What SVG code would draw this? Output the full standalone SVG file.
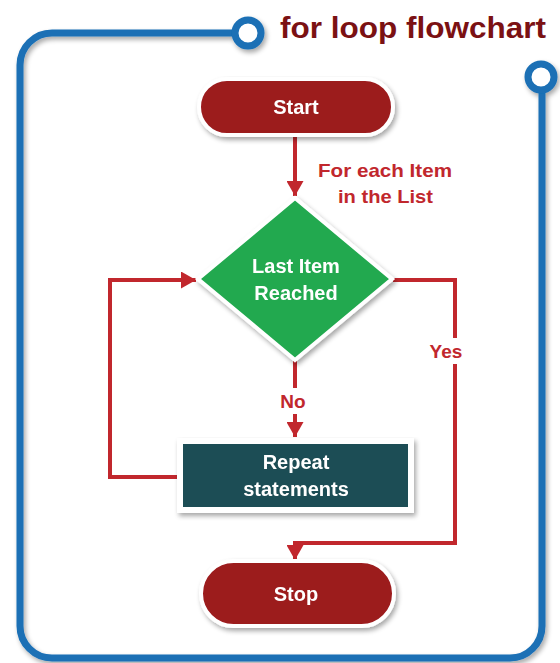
<svg xmlns="http://www.w3.org/2000/svg" width="560" height="663" viewBox="0 0 560 663">
  <defs>
    <filter id="shadow" x="-10%" y="-10%" width="130%" height="130%">
      <feGaussianBlur in="SourceAlpha" stdDeviation="2.5"/>
      <feOffset dx="2" dy="3" result="b"/>
      <feComponentTransfer><feFuncA type="linear" slope="0.35"/></feComponentTransfer>
      <feMerge><feMergeNode/><feMergeNode in="SourceGraphic"/></feMerge>
    </filter>
    <marker id="arrow" viewBox="0 0 15 17" refX="15" refY="8.5" markerWidth="15" markerHeight="17" markerUnits="userSpaceOnUse" orient="auto">
      <path d="M0,0 L15,8.5 L0,17 Z" fill="#c1272d"/>
    </marker>
    <style>
      .frame { fill: none; stroke: #1a6fb5; stroke-width: 7; }
      .ring { fill: #ffffff; stroke: #1a6fb5; stroke-width: 7; }
      .term { fill: #9c1a1e; stroke: #ffffff; stroke-width: 4; }
      .dec { fill: #22a94f; stroke: #ffffff; stroke-width: 4; }
      .proc { fill: #1f4e55; stroke: #ffffff; stroke-width: 6; }
      .node-text { font-family: "Liberation Sans", Arial, sans-serif; font-weight: bold; font-size: 20px; fill: #ffffff; text-anchor: middle; }
      .label { font-family: "Liberation Sans", Arial, sans-serif; font-weight: bold; font-size: 19px; fill: #c1272d; }
      .edge { fill: none; stroke: #c1272d; stroke-width: 4; }
      .title { font-family: "Liberation Sans", Arial, sans-serif; font-weight: bold; font-size: 30px; fill: #7b1113; }
    </style>
  </defs>

  <rect width="560" height="663" fill="#ffffff"/>

  <!-- outer frame with its two ring ends -->
  <g id="frame" filter="url(#shadow)">
    <path class="frame" d="M235 33 H52 A32 32 0 0 0 20 65 V626 A32 32 0 0 0 52 658 H510 A32 32 0 0 0 542 626 V91"/>
    <circle class="ring" cx="248" cy="33" r="13"/>
    <circle class="ring" cx="541" cy="77" r="13"/>
  </g>
  <text id="title" class="title" x="280" y="38" textLength="266" lengthAdjust="spacingAndGlyphs">for loop flowchart</text>

  <!-- connectors -->
  <g id="connectors">
    <path class="edge" d="M295 136 V196" marker-end="url(#arrow)"/>
    <path class="edge" d="M393 280 H455 V543 H295 V560" marker-end="url(#arrow)"/>
    <path class="edge" d="M295 361 V437" marker-end="url(#arrow)"/>
    <path class="edge" d="M182 477 H110 V280 H196" marker-end="url(#arrow)"/>
    <!-- label backgrounds break the lines -->
    <rect x="428" y="338" width="38" height="26" fill="#ffffff"/>
    <rect x="276" y="388" width="36" height="26" fill="#ffffff"/>
    <text class="label" x="318" y="177" textLength="134" lengthAdjust="spacingAndGlyphs">For each Item</text>
    <text class="label" x="338" y="203" textLength="95" lengthAdjust="spacingAndGlyphs">in the List</text>
    <text class="label" x="446" y="358" text-anchor="middle">Yes</text>
    <text class="label" x="293" y="408" text-anchor="middle">No</text>
  </g>

  <g id="start" filter="url(#shadow)">
    <rect class="term" x="199" y="79" width="194" height="56" rx="28"/>
    <text class="node-text" x="296" y="114">Start</text>
  </g>

  <g id="decision" filter="url(#shadow)">
    <polygon class="dec" points="295,198 392,279 295,360 198,279"/>
    <text class="node-text" x="296" y="273">Last Item</text>
    <text class="node-text" x="296" y="300">Reached</text>
  </g>

  <g id="repeat" filter="url(#shadow)">
    <rect class="proc" x="180" y="441" width="231" height="69"/>
    <text class="node-text" x="296" y="469">Repeat</text>
    <text class="node-text" x="296" y="496">statements</text>
  </g>

  <g id="stop" filter="url(#shadow)">
    <rect class="term" x="201" y="561" width="193" height="65" rx="32.5"/>
    <text class="node-text" x="296" y="601">Stop</text>
  </g>
</svg>
